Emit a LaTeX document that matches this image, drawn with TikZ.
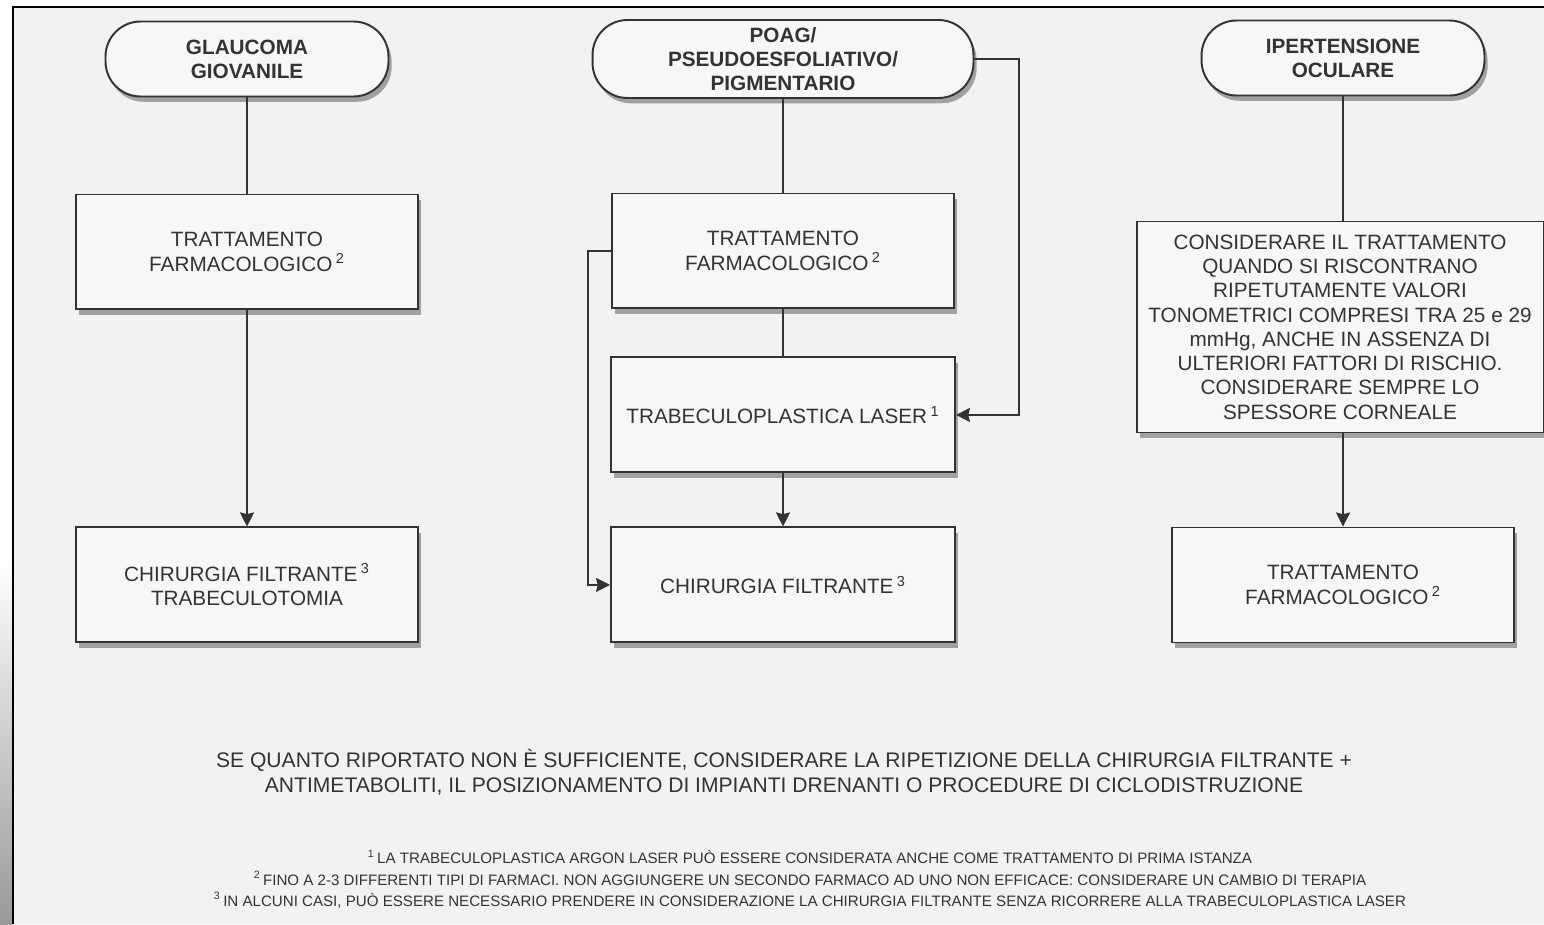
\documentclass[tikz,border=0pt]{standalone}
\usepackage{fontspec}
\setmainfont{Liberation Sans}
\usetikzlibrary{arrows.meta,positioning,shadows}

\definecolor{paper}{HTML}{F2F2F5}
\definecolor{boxfill}{HTML}{F7F7F9}
\definecolor{ink}{HTML}{333333}

\begin{document}
\begin{tikzpicture}[x=0.02cm,y=-0.02cm,>={Stealth[length=8pt,width=8pt,inset=1pt]},line width=1.1pt,
    every node/.style={text=ink,align=center,font=\fontsize{11.8}{14}\selectfont},
    pill/.style={draw=ink,fill=boxfill,rounded corners=0.7cm,minimum width=5.66cm,
        minimum height=1.5cm,font=\bfseries\fontsize{11.8}{13.7}\selectfont,
        drop shadow={shadow xshift=1.8pt,shadow yshift=-3pt,fill=black!50,opacity=.7}},
    box/.style={draw=ink,fill=boxfill,minimum width=6.84cm,minimum height=2.3cm,
        drop shadow={shadow xshift=1.8pt,shadow yshift=-3pt,fill=black!50,opacity=.7}}]
    \useasboundingbox (0,0) rectangle (1544,924);
    \fill[paper] (13,7) rectangle (1544,924);
    \shade[top color=white,bottom color=black!40] (0,560) rectangle (12,924);
    \draw[line width=1.6pt] (13,924) -- (13,7) -- (1544,7);

    % glaucoma giovanile
    \node[pill] (g1) at (247,59) {GLAUCOMA\\GIOVANILE};
    \node[box] (g2) [below of=g1,node distance=3.86cm] {TRATTAMENTO\\FARMACOLOGICO\,\textsuperscript{2}};
    \node[box] (g3) [below of=g2,node distance=6.66cm] {CHIRURGIA FILTRANTE\,\textsuperscript{3}\\TRABECULOTOMIA};

    % poag
    \node[pill,minimum width=7.62cm,minimum height=1.56cm] (p1) at (783,59) {POAG/\\PSEUDOESFOLIATIVO/\\PIGMENTARIO};
    \node[box] (p2) [below of=p1,node distance=3.84cm] {TRATTAMENTO\\FARMACOLOGICO\,\textsuperscript{2}};
    \node[box,minimum width=6.88cm] (p3) [below of=p2,node distance=3.28cm] {TRABECULOPLASTICA LASER\,\textsuperscript{1}};
    \node[box,minimum width=6.88cm] (p4) [below of=p3,node distance=3.4cm] {CHIRURGIA FILTRANTE\,\textsuperscript{3}};

    % ipertensione oculare
    \node[pill] (o1) at (1343,58) {IPERTENSIONE\\OCULARE};
    \node[box,minimum width=8.14cm,minimum height=4.22cm,font=\fontsize{11.8}{13.8}\selectfont] (o2) at (1340,327)
        {CONSIDERARE IL TRATTAMENTO\\QUANDO SI RISCONTRANO\\RIPETUTAMENTE VALORI\\TONOMETRICI COMPRESI TRA 25 e 29\\mmHg, ANCHE IN ASSENZA DI\\ULTERIORI FATTORI DI RISCHIO.\\CONSIDERARE SEMPRE LO\\SPESSORE CORNEALE};
    \node[box] (o3) at (1343,585) {TRATTAMENTO\\FARMACOLOGICO\,\textsuperscript{2}};

    \draw[ink] (g1) -- (g2);
    \draw[ink,->] (g2) -- (g3);
    \draw[ink] (p1) -- (p2);
    \draw[ink] (p2) -- (p3);
    \draw[ink,->] (p3) -- (p4);
    \draw[ink,->] (p1.east) -- ++(45,0) |- (p3.east);
    \draw[ink,->] (p2.west) -- ++(-23,0) |- (p4.west);
    \draw[ink] (o1) -- (o1 |- o2.north);
    \draw[ink,->] (o2.south -| o3.north) -- (o3);

    \node[font=\fontsize{12}{14.2}\selectfont] (note) at (784,772) {SE QUANTO RIPORTATO NON È SUFFICIENTE, CONSIDERARE LA RIPETIZIONE DELLA CHIRURGIA FILTRANTE +\\ANTIMETABOLITI, IL POSIZIONAMENTO DI IMPIANTI DRENANTI O PROCEDURE DI CICLODISTRUZIONE};
    \node[font=\fontsize{8.6}{12}\selectfont] (foot) at (810,879)
        {\textsuperscript{1}\,LA TRABECULOPLASTICA ARGON LASER PUÒ ESSERE CONSIDERATA ANCHE COME TRATTAMENTO DI PRIMA ISTANZA\\
         \textsuperscript{2}\,FINO A 2-3 DIFFERENTI TIPI DI FARMACI. NON AGGIUNGERE UN SECONDO FARMACO AD UNO NON EFFICACE: CONSIDERARE UN CAMBIO DI TERAPIA\\
         \textsuperscript{3}\,IN ALCUNI CASI, PUÒ ESSERE NECESSARIO PRENDERE IN CONSIDERAZIONE LA CHIRURGIA FILTRANTE SENZA RICORRERE ALLA TRABECULOPLASTICA LASER};
\end{tikzpicture}
\end{document}
